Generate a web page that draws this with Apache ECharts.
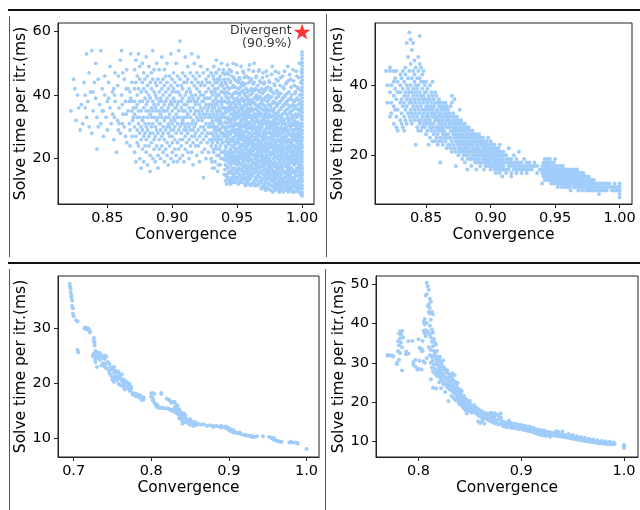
<!DOCTYPE html>
<html><head><meta charset="utf-8">
<script src="https://cdn.jsdelivr.net/npm/echarts@6/dist/echarts.min.js"></script>
<style>html,body{margin:0;padding:0;background:#fff}#c{width:640px;height:510px}</style>
</head><body><div id="c"></div>
<script>
const xTicksA = [0.85, 0.90, 0.95, 1.00];
const xTicksB = [0.7, 0.8, 0.9, 1.0];
const xTicksC = [0.8, 0.9, 1.0];
const yTicks1 = [20, 40, 60];
const yTicks2 = [20, 40];
const yTicks3 = [10, 20, 30];
const yTicks4 = [10, 20, 30, 40, 50];
const xTitle = 'Convergence';
const yTitle = 'Solve time per itr.(ms)';
const divergentPoint = [1.0, 60];
const divergentLabel = 'Divergent\n(90.9%)';

// Each column: [convergence, time, time, ...]
const panel1 = [
[.822,35],[.824,45],[.825,42],[.826,32],[.827,40],[.828,36],[.829,29],[.830,37],[.831,31],[.832,44],[.833,40,36],[.834,53,33],[.835,38],[.836,30,47],[.837,41],[.838,54,28],[.839,35,41],[.840,44],[.841,50,39],[.842,23,33],[.843,45,30],[.844,37],[.845,54,31],[.846,42,35],[.847,27,35],[.848,40,46],[.849,33],[.850,38,29],[.851,44,39],[.852,36,49],[.853,31],[.854,41,34],[.855,26,42],[.856,47,38],[.857,22],[.858,43,32],[.859,36,31],[.860,51,28],[.861,40,54],[.862,34,47],[.863,45,30],[.864,38,27],[.865,48,25],[.866,42,35],[.867,31,38],[.868,53,39],[.869,27,44,35],[.870,36,33],
[.8555,33,40],[.8585,29,46],[.8615,37,31],[.8645,42,34],[.8675,29,41,24],[.8695,38,32],
[.871,48,30,22,38,42,34],[.872,27,51,36,19,44],[.873,33,40,25,46,29,37],[.874,53,31,24,42,35],[.875,38,28,45,20,33,49],[.876,26,41,35,30,17],[.877,44,32,38,23,50,29],[.878,36,27,42,19,47,33],[.879,31,39,24,45,28],[.880,52,35,41,22,30,37,26],
[.881,43,33,18,38,29,46],[.882,35,24,40,31,49,27],[.883,39,21,44,34,28,16],[.884,30,47,36,25,42,33],[.885,54,28,38,20,45,31,35],[.886,26,41,33,23,37,48],[.887,44,30,19,36,27,40],[.888,32,50,24,39,29,35,43],[.889,28,37,21,45,33,17],[.890,41,31,26,38,48,35,23],
[.891,34,44,29,20,39,31],[.892,27,36,42,52,24,33,38],[.893,45,30,22,35,40,28],[.894,32,48,26,37,19,43,35],[.895,38,29,41,23,33,46],[.896,25,35,30,44,21,39,50],[.897,36,42,28,18,33,31],[.898,30,46,37,24,40,27,34],[.899,43,32,20,38,29,53],[.900,35,27,41,22,31,45,37,25],
[.901,29,39,33,47,19,42],[.902,36,26,44,30,23,38,32],[.903,50,34,28,41,21,36],[.904,31,43,25,37,33,46,19],[.905,38,29,54,35,23,41],[.906,57,33,26,40,30,20,45],[.907,36,24,43,31,38,28],[.908,42,32,21,47,35,26,39],[.909,29,37,33,44,19,31],[.910,35,46,27,40,23,52,30],
[.911,41,33,25,37,29,44],[.912,28,38,22,45,34,31,49],[.913,36,30,42,26,39,20],[.914,33,47,29,38,24,41,35],[.915,40,27,44,31,53,22],[.916,25,36,32,46,29,39,18],[.917,43,34,27,38,50,30],[.918,31,40,24,35,45,28,37],[.919,38,26,42,33,21,47],[.920,35,29,44,39,24,32,52],
[.921,27,41,34,46,19,37],[.922,43,30,36,25,40,33,49],[.923,32,38,28,44,22,35],[.924,40,26,34,47,30,38,14],[.925,29,43,36,23,39,33],[.926,37,31,45,27,41,20,34],[.927,44,35,28,39,25,48],[.928,30,37,42,33,22,46,36],[.929,39,26,34,44,31,28],[.930,33,41,24,37,47,30,20],
[.931,36,28,43,17,32,40,25],[.932,30,45,22,38,34,49,27],[.933,41,33,26,37,19,44,30],[.934,35,28,47,23,40,32,51],[.935,38,30,42,25,34,16,45,29],[.936,27,40,33,48,21,36,31],[.937,43,35,29,38,24,46,32,18],[.938,31,39,26,44,34,22,50,37],[.939,36,28,41,33,47,20,30,25],[.940,33,42,27,38,15,45,30,22,36],
[.9305,26,35,41,19],[.9315,31,23,38,46],[.9325,29,36,17,42],[.9335,24,33,39,47],[.9345,27,21,37,44],[.9355,32,26,40,18],[.9365,23,35,29,45],[.9375,28,20,33,41],[.9385,30,25,38,43],[.9395,22,34,27,48],
[.941,13,18,24,29,33,38,44,21,35],[.942,15,20,26,31,36,41,47,12,28],[.943,14,17,22,27,33,39,30,45,25,19],[.944,16,21,25,30,35,42,13,38,48],[.945,12,18,23,28,32,37,44,26,20,34],[.946,14,19,24,29,34,40,46,22,31,17],[.947,15,21,26,30,36,43,13,33,39,50],[.948,13,17,22,27,32,38,45,25,19,35,29],[.949,16,20,25,31,34,41,14,28,37,23],[.950,14,18,23,29,33,39,47,21,26,36,31],
[.951,12,17,22,27,31,35,42,19,25,38,44],[.952,15,20,24,28,33,37,45,13,30,22,40],[.953,14,18,23,26,32,36,41,49,20,29,34],[.954,13,17,21,27,30,35,39,44,24,16,32],[.955,15,19,24,28,33,38,43,22,26,36,47],[.956,12,16,21,25,30,34,40,18,27,37,31],[.957,14,20,23,29,32,37,42,46,17,26,35],[.958,13,18,22,27,31,36,41,24,15,33,39],[.959,16,19,25,28,34,38,44,21,30,12,48],[.960,14,17,23,26,31,35,40,20,28,37,33],
[.961,12,18,22,27,30,36,42,25,15,33,45],[.962,15,19,24,29,32,38,21,27,35,17,41],[.963,13,17,21,26,31,34,39,44,23,28,50],[.964,14,20,24,28,33,37,42,18,30,26,12],[.965,16,19,23,27,32,36,40,46,21,29,34],[.966,13,18,22,26,30,35,39,15,25,33,43],[.967,12,17,21,28,31,37,41,24,19,34,48],[.968,14,19,23,27,32,36,44,16,29,21,39],[.969,11,16,22,25,30,34,38,20,27,42,13],[.970,15,18,24,28,33,37,41,47,21,26,31],
[.971,12,17,20,26,29,35,39,14,23,32,44],[.972,13,16,22,27,31,36,42,19,25,34,10],[.973,11,18,21,25,30,33,38,15,28,46,23],[.974,14,17,23,28,32,35,40,20,26,12,37],[.975,12,16,20,24,29,34,39,44,22,31,18],[.976,10,15,19,25,28,33,37,21,13,30,42],[.977,13,17,22,26,31,35,41,24,15,28,49],[.978,11,16,20,23,27,32,38,18,29,35,14],[.979,12,15,19,24,29,33,36,43,21,26,10],[.980,14,18,22,25,30,34,39,16,28,12,45],
[.981,11,15,20,24,27,31,37,22,18,33,41],[.982,13,17,21,26,29,35,40,10,24,31,47],[.983,12,16,19,23,28,32,38,14,26,21,43],[.984,10,15,18,22,27,30,36,20,25,33,12],[.985,13,17,21,25,29,34,39,11,23,31,46],[.986,11,14,19,24,28,32,37,16,22,26,42],[.987,12,16,20,23,27,31,35,40,18,29,10],[.988,14,18,21,25,30,34,38,13,23,27,44],[.989,11,15,19,22,26,29,33,37,17,24,49],[.990,12,16,20,24,28,32,36,41,10,18,26],
[.991,13,17,21,25,30,34,39,15,23,11,45],[.992,11,14,19,22,27,31,35,17,25,29,40],[.993,12,16,20,24,28,33,37,10,21,26,48],[.994,14,18,22,26,29,32,38,12,16,24,43],[.995,11,15,19,23,27,31,36,41,13,21,34],[.996,12,17,20,25,28,33,39,10,22,30,46],[.997,13,16,21,24,29,34,37,11,19,27,42],[.998,12,15,18,23,26,31,35,40,20,28,50],[.999,11,14,19,22,27,30,36,9,17,25,44],
[.9405,16.5,22.5,27.5,31.5,40.5,19.5,34.5,46.5],[.9415,14.5,19.5,23.5,29.5,34.5,39.5,43.5,25.5],[.9425,17.5,21.5,26.5,32.5,37.5,42.5,13.5,49.5],[.9435,15.5,20.5,24.5,28.5,35.5,40.5,31.5,46.5],[.9445,12.5,18.5,22.5,27.5,32.5,36.5,44.5,19.5],
[.9455,15.5,21.5,25.5,30.5,35.5,39.5,47.5,13.5],[.9465,16.5,20.5,26.5,32.5,37.5,42.5,12.5,28.5],[.9475,14.5,18.5,23.5,28.5,34.5,40.5,45.5,19.5],[.9485,15.5,20.5,24.5,30.5,36.5,42.5,12.5,33.5],[.9495,13.5,18.5,22.5,27.5,32.5,38.5,44.5,49.5],
[.9505,15.5,19.5,25.5,30.5,34.5,40.5,16.5,28.5],[.9515,14.5,20.5,23.5,29.5,33.5,37.5,45.5,12.5],[.9525,16.5,18.5,26.5,31.5,35.5,42.5,21.5,38.5],[.9535,12.5,16.5,21.5,24.5,30.5,38.5,43.5,27.5],[.9545,14.5,19.5,22.5,28.5,33.5,36.5,41.5,47.5],
[.9555,13.5,17.5,20.5,25.5,30.5,34.5,40.5,45.5],[.9565,15.5,19.5,23.5,28.5,32.5,38.5,43.5,11.5],[.9575,12.5,16.5,21.5,24.5,30.5,33.5,39.5,28.5],[.9585,14.5,19.5,25.5,29.5,34.5,37.5,45.5,20.5],[.9595,13.5,17.5,22.5,26.5,31.5,35.5,41.5,49.5],
[.9605,11.5,15.5,21.5,24.5,29.5,33.5,38.5,44.5],[.9615,14.5,19.5,23.5,27.5,32.5,37.5,40.5,16.5],[.9625,12.5,16.5,22.5,25.5,30.5,35.5,43.5,47.5],[.9635,15.5,18.5,24.5,29.5,33.5,37.5,41.5,11.5],[.9645,13.5,16.5,21.5,26.5,31.5,35.5,39.5,45.5],
[.9655,11.5,17.5,20.5,24.5,28.5,33.5,38.5,14.5],[.9665,14.5,19.5,23.5,27.5,31.5,36.5,41.5,47.5],[.9675,12.5,15.5,22.5,25.5,29.5,34.5,39.5,44.5],[.9685,10.5,17.5,20.5,24.5,30.5,33.5,37.5,12.5],[.9695,13.5,18.5,23.5,26.5,31.5,35.5,40.5,45.5],
[.9705,11.5,16.5,19.5,22.5,27.5,32.5,38.5,43.5],[.9715,14.5,18.5,24.5,28.5,33.5,36.5,41.5,10.5],[.9725,12.5,15.5,20.5,23.5,29.5,34.5,39.5,47.5],[.9735,13.5,16.5,22.5,26.5,31.5,35.5,42.5,19.5],[.9745,10.5,15.5,18.5,24.5,29.5,33.5,38.5,44.5],
[.9755,13.5,17.5,21.5,26.5,30.5,36.5,41.5,14.5],[.9765,11.5,16.5,23.5,27.5,31.5,35.5,39.5,46.5],[.9775,9.5,14.5,18.5,21.5,25.5,29.5,33.5,37.5],[.9785,12.5,15.5,21.5,24.5,30.5,34.5,40.5,43.5],[.9795,10.5,13.5,17.5,22.5,27.5,31.5,37.5,47.5],
[.9805,11.5,16.5,20.5,23.5,28.5,32.5,36.5,41.5],[.9815,12.5,14.5,18.5,25.5,29.5,34.5,39.5,44.5],[.9825,9.5,15.5,19.5,22.5,27.5,33.5,37.5,11.5],[.9835,10.5,13.5,17.5,24.5,29.5,35.5,40.5,45.5],[.9845,13.5,16.5,20.5,23.5,28.5,31.5,38.5,11.5],
[.9855,9.5,12.5,18.5,22.5,26.5,32.5,36.5,42.5],[.9865,12.5,15.5,20.5,25.5,29.5,34.5,39.5,47.5],[.9875,10.5,14.5,17.5,21.5,25.5,30.5,37.5,43.5],[.9885,11.5,15.5,19.5,23.5,28.5,32.5,35.5,40.5],[.9895,9.5,12.5,16.5,20.5,27.5,31.5,38.5,44.5],
[.9905,13.5,14.5,18.5,22.5,25.5,30.5,34.5,46.5],[.9915,10.5,15.5,19.5,23.5,27.5,32.5,36.5,42.5],[.9925,12.5,16.5,20.5,24.5,30.5,33.5,38.5,9.5],[.9935,11.5,13.5,18.5,22.5,26.5,31.5,35.5,44.5],[.9945,9.5,15.5,19.5,23.5,27.5,30.5,36.5,40.5],
[.9955,12.5,16.5,20.5,25.5,29.5,33.5,38.5,47.5],[.9965,10.5,14.5,18.5,23.5,26.5,31.5,35.5,42.5],[.9975,9.5,12.5,17.5,22.5,25.5,30.5,38.5,45.5],[.9985,10.5,13.5,16.5,21.5,24.5,29.5,33.5,37.5],[.9995,8.5,11.5,15.5,20.5,23.5,28.5,32.5,41.5,47.5],
[1.000,8.3,9.4,10.6,11.5,12.7,13.6,14.8,15.7,16.9,17.8,19,20.1,21.2,22.3,23.5,24.4,25.6,26.7,27.8,28.9,30.1,31.2,32.3,33.4,34.6,35.7,36.8,37.9,39.1,40.2,41.3,42.4,43.6,44.7,45.8,46.9,48.1,49.2,50.3,51.5,52.6,53.6]
];

const panel2 = [
[.819,44],[.820,40,35],[.822,44,31,38,45],[.823,32,40,35],[.825,44,41,37,29,34],[.826,33,39,42],[.827,31,36,44,28],[.828,38,33,41,27],[.830,40,35,30,43,38],
[.831,36,32,42,29],[.832,39,34,28,44],[.833,41,37,31,35,27],[.834,43,38,33,30,45],[.835,40,36,52,29,34],[.836,42,37,32,48,39],[.837,55,44,38,31,35],[.838,53,40,36,33,30,46],[.839,50,42,38,35,29,32],[.840,52,44,39,34,37,31],
[.841,47,41,36,33,30,43],[.842,45,40,23,35,38,32],[.843,42,37,34,31,28,39],[.844,48,44,36,33,30,27,40],[.845,54,46,38,35,32,29,42],[.846,45,41,37,34,30,27],[.847,43,39,36,33,31,28],[.848,41,37,35,32,29,44],[.849,40,36,33,30,28,38],[.850,41,38,34,31,29,26,36],
[.851,39,35,32,30,27,33],[.852,37,34,31,29,23,36],[.853,40,36,33,30,28,25],[.854,38,35,32,29,27,34],[.855,41,37,33,31,28,24],[.856,36,34,31,29,26,32],[.857,38,35,32,30,27,24],[.858,37,33,31,28,25,30],[.859,35,33,30,28,26,23],[.860,36,34,31,29,27,24,32],
[.861,35,32,30,28,25,18],[.862,34,31,29,27,24,33],[.863,35,33,30,28,26,23],[.864,34,32,29,27,25,31],[.865,33,31,29,26,24,35],[.866,34,32,30,28,25,22],[.867,33,30,28,26,23,31],[.868,32,30,28,25,23,29],[.869,31,29,27,25,22,34],[.870,37,31,29,27,24,21,35],
[.871,32,30,28,26,23],[.872,31,29,27,25,22,36],[.873,30,28,26,24,21,17],[.874,31,29,27,25,23],[.875,30,28,26,24,22,20],[.876,29,27,25,23,21,33],[.877,30,28,26,24,22],[.878,29,27,25,23,21,19],[.879,28,26,24,22,20],[.880,29,27,25,23,21,18],
[.881,28,26,24,22,20],[.882,27,25,23,21,19,16],[.883,28,26,24,22,20],[.884,27,25,23,21,19],[.885,26,24,23,21,19,17],[.886,27,25,23,22,20],[.887,26,24,22,21,19],[.888,25,24,22,20,18],[.889,26,24,23,21,19,16],[.890,25,23,22,20,18],
[.891,26,24,22,21,19],[.892,25,23,21,20,18,17],[.893,24,23,21,20,18],[.894,25,23,22,20,19],[.895,24,22,21,19,18,16],[.896,23,22,20,19,17],[.897,24,22,21,20,18],[.898,25,23,21,19,17],[.899,23,22,20,19,18],[.900,24,22,21,19,17,16],
[.901,23,21,20,19,17],[.902,22,21,20,18,17],[.903,23,21,19,18,16],[.904,22,20,19,18,17,15],[.905,21,20,19,17,16],[.906,22,21,19,18,16],[.907,23,20,18,17,15],[.908,21,19,18,17,16],[.909,20,19,17,16,14],[.910,21,20,18,17,16],
[.912,20,19,18,16,15],[.914,19,18,17,16,22],[.916,19,18,17,15,14],[.918,18,17,16,20],[.920,19,18,17,16,15],[.922,18,17,16,21],[.924,18,17,16,15],[.926,17,16,19],[.928,18,17,16,15],[.930,17,16,18],
[.932,17,16],[.934,18,17],[.936,17,15],[.938,16],[.940,17,16,15,12],[.941,18,16,15,14],[.942,17,16,15,13,19],[.943,18,17,16,14,15],[.944,17,16,15,14,13,19],[.945,18,17,16,15,14,13],
[.946,17,16,15,14,13,19],[.947,18,16,15,14,13,12],[.948,17,16,15,14,13],[.949,18,16,15,14,13,12],[.950,17,16,15,14,13,19],[.951,16,15,14,13,12],[.952,17,16,15,14,13,11],[.953,16,15,14,13,12],[.954,17,15,14,13,12],[.955,16,15,14,13,12,11],
[.956,17,15,14,13,12],[.957,16,15,14,12,11],[.958,15,14,13,12,11],[.959,16,15,13,12,11],[.960,15,14,13,12,11],[.961,16,15,14,12,11],[.962,15,14,13,12,10],[.963,16,15,14,13,12],[.964,15,14,13,12,11],[.965,16,14,13,12,11],
[.966,15,14,13,12,11],[.967,16,15,13,12,11],[.968,15,14,13,12,10],[.969,14,13,12,11],[.970,15,14,13,12,11],[.971,14,13,12,11,10],[.972,15,14,13,12],[.973,14,13,12,11],[.974,14,13,12,11,10],[.975,13,12,11,10],
[.976,14,13,12,11],[.977,13,12,11,10],[.978,13,12,11],[.979,13,12,11,10],[.980,12,11,10,13],[.982,12,11,10],[.984,12,11,10,9],[.986,12,11,10],[.988,12,11,10],[.990,12,11,10],
[.992,12,11],[.994,11,10],[.996,12,11,10],[.998,11,10],[1.000,12,11,10,9,8]
];

const panel3 = [
[.695,38,37.6],[.696,37.2,36.5],[.697,36,35.6],[.698,35,34],[.699,33.6,32.6],[.700,32.2],[.703,31.4],[.705,31.2,26],[.706,25.6],
[.714,30,29.9],[.716,30.1,29.8],[.719,29.9,29.6],[.721,29.5,29.2],[.726,28.2,27.6],[.727,27.3,26.8,25.3],[.725,25.2,24.8],[.728,25.8,25,24.3,23.8],
[.730,22.9,24.6,25.2],[.732,25.5,24.7],[.734,24.8,25.4,24.2],[.736,24.9,23.2],[.738,24.6,23.6],[.740,25,24.4,23],[.742,22.7,23.6,24.8],[.744,22.6,23.8],[.746,22.2,21.8,23.4],[.748,21.4,22.8],
[.750,22.4,21,20.6],[.752,21.8,20.2,22.9],[.754,21.2,20.7,22.2],[.756,20.5,21.9,22.1],[.758,19.8,22,21.2],[.760,19.6,21.4,20.8],[.762,21.6,20.4],[.764,19.3,20.7,20],[.766,19.9,20.4,18.8],[.768,20.2,19.5],
[.770,19.1,20,19.7],[.772,19.8,18.6],[.774,19.3,18.9],[.776,18.2,17.9],[.780,18.1,17.6],[.784,17.8,17.4],[.786,17.3,17.7],[.788,17.1,16.9],[.790,17.4,17],
[.800,18.1,17.5],[.802,18.2,17.2,16.8],[.804,18,16.4],[.806,16.2,15.9],[.808,16,15.6],[.810,15.6,15.5],[.813,18.2,18],[.814,15.5,15.4],[.817,15.4],
[.820,15.4,17.2],[.822,17,15.3],[.824,16.8,15.2],[.826,16.4,15],[.828,16.5,15.1,14.9],[.830,16.6,14.8,15.5],[.832,16.1,14.6,15.3],[.834,14.4,15.8,15],[.836,13.6,14.2,15.2],[.838,13.9,14.7,13.4],
[.840,14.3,13.2,12.6],[.842,13.8,14.5,13],[.844,13.5,14.1,12.8],[.846,13.4,12.9],[.848,13.2,12.7],[.850,13.4,12.8,12.4],[.852,12.6,13],[.854,12.4,12.2],[.856,12.9,12.5],[.858,12.3,12.7],
[.860,12.6],[.864,12.4],[.868,12.5],[.872,12.2],[.876,12.3],[.880,12.2,12],[.884,12.2],[.888,12.1],[.890,12.2,11.9],[.894,12],[.896,11.8,12.1],[.898,11.7,11.9],
[.900,11.8,11.5],[.902,11.6,11.3],[.904,11.2],[.906,11.4,11],[.910,11,10.9],[.912,10.8],[.914,11],[.916,10.7],[.920,10.6],[.922,10.5],[.925,10.4],[.928,10.3],
[.930,10.4,10.2],[.933,10.2],[.936,10.3],[.944,10.3],[.952,10.2],[.954,10.1],[.956,9.9],[.958,9.7,10],[.960,9.6],[.962,9.5],[.964,9.4],[.966,9.3],[.968,9.3],
[.978,9.2],[.980,9.3],[.982,9.2],[.986,9.2],[.988,9.1],[.989,9],[1.000,8]
];

const panel4 = [
[.770,32,31.8],[.772,31.9],[.775,31.8,31.6],[.779,30,29.6],[.780,35.5,33],[.781,37.5,34.5,30.8],[.782,38,36.2,32.5],[.783,37.2,35.2],[.784,38.1,28,34],[.785,36.5],
[.788,32.8,32.2],[.790,35.5,32.4],[.794,35.6],[.795,30.2,29.5],[.797,30.8,29],[.799,28.2],[.800,36,28.5],[.801,33.8,30.5],[.803,33.5,33,28.3],[.804,33,35.6],
[.805,40.5,38.2,30.4],[.806,41.2,37.5,39.8,30],[.807,38.3,47.2,36.8],[.808,50.5,47.5,40.2,31.2],[.809,49.6,44.5,38],[.810,48.7,45,43,37.6,34],[.811,46.4,44,42.6,39.5,37.2,32],[.812,45.6,41,36.5,33.3,30,25.8],[.813,43,38.5,35.4,31.5,28.8],[.814,42.4,37.7,34.2,30.6,27.8,23.6],
[.815,36.1,33,29.5,31.8],[.816,35.2,32.4,28.4,27.2],[.817,34.6,31.2,29.6,23.4],[.818,33,30.3,28,26.6],[.819,31.6,29.4,27.4,30.8],[.820,31.2,28.8,26.8,25],[.821,30.4,28,26.2,31.5],[.822,29.8,27.6,25.8,23.5],[.823,29.2,27.3,25.4],[.824,30.6,28.4,26.5,24.6],
[.825,28.8,26.7,25],[.826,28.2,26.3,24.6,22.5],[.827,27.6,25.8,24.1],[.828,28,26,24.4,23.8],[.829,27.2,25.5,20.2,23.6],[.830,26.6,25,23.2,24.4],[.831,27,25.3,23.5],[.832,26.2,24.6,22.9,21.5],[.833,27.3,25.8,24.2],[.834,25.5,23.9,22.4,21],
[.835,26.8,24.6,23.1],[.836,25.1,23.6,22.1,20.4],[.837,24.3,22.8,21.6],[.838,23.5,22.3,20.9,24.8],[.839,22.6,21.4,20],[.840,23.2,21.8,20.6,19.4],[.841,22.4,21.1,19.8],[.842,21.6,20.4,19.2,22.8],[.843,21,19.9,18.8],[.844,20.6,19.5,18.4,21.5],
[.845,20.2,19.2,18.2],[.846,19.8,18.9,17.8,20.8],[.847,20.4,19.4,18.5,17],[.848,19.6,18.7,17.7],[.849,20,19.1,18.2],[.850,19.4,18.5,17.6,20.2],[.852,18.8,18,17.2],[.854,19.2,18.3,17.5],[.856,18.6,17.8,17],[.858,18.2,17.4,16.6,15],
[.860,17.8,17,16.3,14.6],[.862,17.5,16.8,16,15.2],[.864,17.2,16.5,15.8,14.5],[.866,17,16.3,15.6],[.868,16.7,16,15.3],[.870,16.4,15.8,15.1,17.2],[.872,16.6,15.6,14.8,17],[.874,16.3,15.4,14.6,17.1],[.876,16.8,15.2,14.4],[.878,16.5,15.6,14.2],
[.880,17,15.4,14.5,16],[.882,15,14.4,13.8],[.884,14.8,14.2,13.7],[.886,14.6,14.1,13.5],[.888,15.2,14.4,13.8],[.890,14.6,14,13.4],[.892,14.3,13.8,13.3],[.894,14.5,13.9,13.4],[.896,14.2,13.6,13.1],[.898,14,13.5,13],
[.900,14.1,13.6,13.2],[.902,13.9,13.4,12.9],[.904,13.8,13.3,12.8],[.906,13.6,13.1,12.6],[.908,13.7,13,12.5],[.910,13.4,12.9,12.4],[.912,13.3,12.7,12.2],[.914,13,12.5,12],[.916,12.9,12.4,11.8],[.918,12.8,12.2,11.6],
[.920,12.6,12.1,11.5],[.922,12.7,12,11.4],[.924,12.4,11.8,11.3],[.926,12.3,11.7],[.928,12.2,11.6,11.1],[.930,12,11.5],[.932,12.1,11.4],[.934,11.9,11.3,12.5],[.936,11.8,11.2,12.3],[.938,11.7,11.2],
[.940,11.6,11.1,12.4],[.942,11.5,11],[.944,11.4,10.9],[.946,11.3,10.8,11.8],[.948,11.2,10.7],[.950,11,10.6,11.5],[.952,10.9,10.5],[.954,10.8,10.4,11.2],[.956,10.7,10.3],[.958,10.6,10.2,11],
[.960,10.5,10.1],[.962,10.4,10,10.8],[.964,10.3,9.9],[.966,10.2,9.8,10.6],[.968,10.1,9.8],[.970,10,9.7,10.4],[.972,9.9,9.6],[.974,9.8,9.5,10.2],[.976,9.7,9.5],[.978,9.6,9.4,10],
[.980,9.6,9.3],[.982,9.5,9.3,9.9],[.984,9.4,9.2],[.986,9.4,9.2,9.8],[.988,9.3,9.1],[.990,9.3,9.6],[.991,9.2],[1.000,9,8.5,8.2]
];

function expand(cols) {
  const out = [];
  for (const c of cols) for (let i = 1; i < c.length; i++) out.push([c[0], c[i]]);
  return out;
}

const F = 'DejaVu Sans';
const DOT = '#a0ccfa';
const AX = '#222';
const TICK_FS = 14.5;
const TITLE_FS = 15.5;

const grids = [
  {left: 58, top: 23, width: 256, height: 181},
  {left: 375, top: 23, width: 257, height: 181},
  {left: 58, top: 276, width: 261, height: 181},
  {left: 376, top: 276, width: 262, height: 181}
].map(g => Object.assign(g, {show: true, borderColor: AX, borderWidth: 1, backgroundColor: 'transparent', containLabel: false}));

function xAx(i, min, max, ticks, dec) {
  return {
    type: 'value', gridIndex: i, min: min, max: max,
    name: xTitle, nameLocation: 'middle', nameGap: 22,
    nameTextStyle: {fontSize: TITLE_FS, color: '#000', fontFamily: F},
    axisLine: {show: true, onZero: false, lineStyle: {color: AX, width: 1}},
    axisTick: {show: true, length: 4, inside: false, customValues: ticks, lineStyle: {color: AX}},
    axisLabel: {customValues: ticks, formatter: v => Number(v).toFixed(dec), fontSize: TICK_FS, color: '#000', margin: 7, fontFamily: F},
    splitLine: {show: false}
  };
}
function yAx(i, min, max, ticks) {
  return {
    type: 'value', gridIndex: i, min: min, max: max,
    name: yTitle, nameLocation: 'middle', nameGap: 27, nameRotate: 90,
    nameTextStyle: {fontSize: TITLE_FS, color: '#000', fontFamily: F},
    axisLine: {show: true, onZero: false, lineStyle: {color: AX, width: 1}},
    axisTick: {show: true, length: 4, inside: false, customValues: ticks, lineStyle: {color: AX}},
    axisLabel: {customValues: ticks, formatter: v => String(Math.round(v)), fontSize: TICK_FS, color: '#000', margin: 7, fontFamily: F},
    splitLine: {show: false}
  };
}

function scat(i, cols, size) {
  return {
    type: 'scatter', xAxisIndex: i, yAxisIndex: i, data: expand(cols),
    symbol: 'circle', symbolSize: size, large: false, silent: true,
    itemStyle: {color: DOT, opacity: 1, borderWidth: 0}
  };
}

const starPath = 'path://M50,0 L61.8,35.1 L98.9,35.1 L68.8,56.7 L80.2,91.9 L50,70 L19.8,91.9 L31.2,56.7 L1.1,35.1 L38.2,35.1 Z';

const option = {
  animation: false,
  backgroundColor: '#fff',
  textStyle: {fontFamily: F},
  grid: grids,
  xAxis: [
    xAx(0, 0.812, 1.0092, xTicksA, 2),
    xAx(1, 0.8104, 1.0096, xTicksA, 2),
    xAx(2, 0.6798, 1.0162, xTicksB, 1),
    xAx(3, 0.7586, 1.0136, xTicksC, 1)
  ],
  yAxis: [
    yAx(0, 5.7, 62.7, yTicks1),
    yAx(1, 6.15, 57.7, yTicks2),
    yAx(2, 6.55, 39.45, yTicks3),
    yAx(3, 5.9, 52.2, yTicks4)
  ],
  series: [
    scat(0, panel1, 3.8),
    scat(1, panel2, 4),
    scat(2, panel3, 4),
    scat(3, panel4, 4),
    {
      type: 'scatter', xAxisIndex: 0, yAxisIndex: 0, data: [divergentPoint],
      symbol: starPath, symbolSize: [17, 16], silent: true,
      itemStyle: {color: '#ff0000'},
      label: {show: true, position: 'left', distance: 2, formatter: divergentLabel,
        fontSize: 12.5, lineHeight: 13, color: '#000', align: 'right', fontFamily: F, offset: [0, 6]}
    }
  ],
  graphic: [
    {type: 'line', silent: true, shape: {x1: 8, y1: 10, x2: 640, y2: 10}, style: {stroke: '#111', lineWidth: 2}},
    {type: 'line', silent: true, shape: {x1: 8, y1: 263, x2: 640, y2: 263}, style: {stroke: '#111', lineWidth: 2}},
    {type: 'line', silent: true, shape: {x1: 9.5, y1: 16, x2: 9.5, y2: 257}, style: {stroke: '#555', lineWidth: 1}},
    {type: 'line', silent: true, shape: {x1: 326.5, y1: 14, x2: 326.5, y2: 257}, style: {stroke: '#555', lineWidth: 1}},
    {type: 'line', silent: true, shape: {x1: 9.5, y1: 269, x2: 9.5, y2: 510}, style: {stroke: '#555', lineWidth: 1}},
    {type: 'line', silent: true, shape: {x1: 325.5, y1: 269, x2: 325.5, y2: 510}, style: {stroke: '#555', lineWidth: 1}}
  ]
};

const chart = echarts.init(document.getElementById('c'), null, {renderer: 'canvas'});
chart.setOption(option);
</script>
</body></html>
